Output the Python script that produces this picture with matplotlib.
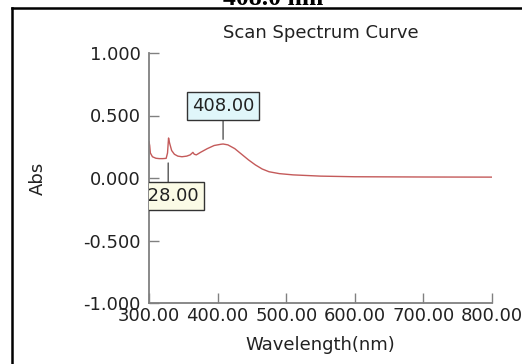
import matplotlib
matplotlib.use('Agg')
import matplotlib.pyplot as plt
from matplotlib.lines import Line2D

plt.rcParams['axes.unicode_minus'] = False
plt.rcParams['font.family'] = ['DejaVu Sans']

# Данные спектра
wavelength = [300, 301, 302, 305, 310, 315, 320, 325, 327, 328.5, 330, 333, 337, 342,
              348, 355, 360, 364, 366, 369, 375, 385, 395, 405, 408, 415, 425, 435,
              445, 455, 465, 475, 490, 510, 550, 600, 700, 800]
absorb = [0.29, 0.26, 0.20, 0.17, 0.158, 0.155, 0.155, 0.157, 0.20, 0.32, 0.28, 0.22,
          0.19, 0.175, 0.17, 0.175, 0.185, 0.205, 0.19, 0.185, 0.205, 0.235, 0.26,
          0.27, 0.272, 0.265, 0.235, 0.19, 0.145, 0.105, 0.072, 0.05, 0.035, 0.025,
          0.015, 0.01, 0.008, 0.007]

x_ticks = [300, 400, 500, 600, 700, 800]
y_ticks = [-1.0, -0.5, 0.0, 0.5, 1.0]

# Подписи пиков: длина волны, уровень подписи, конец линии, цвет фона
peak_labels = [408, 328]
peak_text_y = [0.576, -0.144]
peak_line_end = [0.31, 0.12]
peak_colors = ['#e0f6fa', '#fbfbe6']

fig = plt.figure(figsize=(5.22, 3.64), dpi=100)
ax = fig.add_axes([149 / 522, 1 - 303 / 364, 343 / 522, 250 / 364])

ax.plot(wavelength, absorb, color='#c45a5a', lw=1.0)

ax.set_xlim(300, 800)
ax.set_ylim(-1, 1)
ax.set_xticks(x_ticks)
ax.set_yticks(y_ticks)
ax.set_xticklabels([f'{v:.2f}' for v in x_ticks])
ax.set_yticklabels([f'{v:.3f}' for v in y_ticks])

for s in ['top', 'right']:
    ax.spines[s].set_visible(False)
for s in ['left', 'bottom']:
    ax.spines[s].set_color('#808080')
    ax.spines[s].set_linewidth(1.3)
ax.tick_params(direction='in', length=7, width=1, color='#808080',
               labelsize=13, labelcolor='#222222')
ax.tick_params(axis='y', pad=6)
ax.tick_params(axis='x', pad=3)

ax.set_title('Scan Spectrum Curve', fontsize=13, pad=11, color='#222222')
ax.set_xlabel('Wavelength(nm)', fontsize=13, labelpad=8, color='#222222')
ax.set_ylabel('Abs', fontsize=13, color='#222222',
              family=['Liberation Sans Narrow', 'DejaVu Sans'])
ax.yaxis.set_label_coords(-0.297, 0.5)

for wl, ty, ly, c in zip(peak_labels, peak_text_y, peak_line_end, peak_colors):
    ann = ax.annotate(f'{wl:.2f}', xy=(wl, ly), xytext=(wl, ty),
                      ha='center', va='center', fontsize=13, color='#222222',
                      bbox=dict(boxstyle='square,pad=0.25', fc=c, ec='#333333', lw=1),
                      arrowprops=dict(arrowstyle='-', color='#555555', lw=1,
                                      shrinkA=0, shrinkB=0))
    ann.set_clip_path(ax.patch)

# Рамка скриншота и обрезанный заголовок сверху
fig.add_artist(Line2D([12 / 522, 12 / 522], [0, 1 - 8 / 364], transform=fig.transFigure,
                      color='black', lw=1.8))
fig.add_artist(Line2D([12 / 522, 1], [1 - 8 / 364, 1 - 8 / 364], transform=fig.transFigure,
                      color='black', lw=1.8))
fig.text(273 / 522, 1 - 5 / 364, '408.0 nm', ha='center', va='baseline',
         fontsize=18.5, fontweight='bold', family=['Liberation Serif', 'DejaVu Serif'])

fig.savefig('out.png', dpi=100)
